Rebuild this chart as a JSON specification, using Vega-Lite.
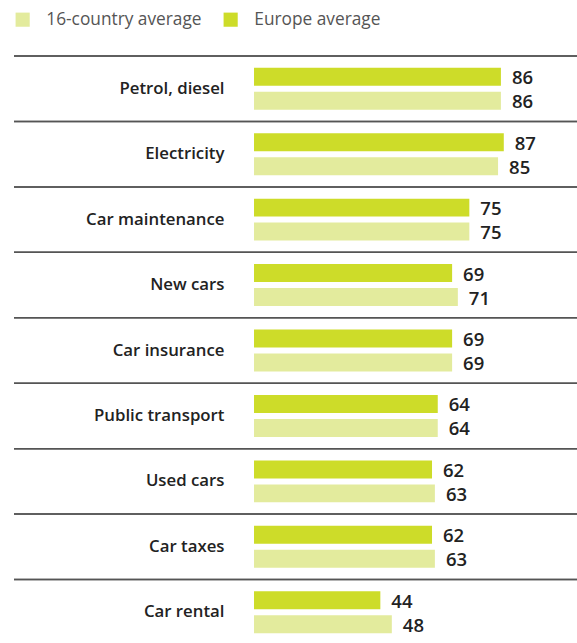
{
  "$schema": "https://vega.github.io/schema/vega-lite/v6.json",
  "width": 563,
  "height": 589,
  "autosize": {"type": "none"},
  "padding": {"left": 14, "top": 56, "right": 0, "bottom": 0},
  "config": {"view": {"stroke": null}, "font": "Open Sans"},
  "data": {
    "values": [
      {"category": "Petrol, diesel", "series": "Europe average", "value": 86},
      {"category": "Petrol, diesel", "series": "16-country average", "value": 86},
      {"category": "Electricity", "series": "Europe average", "value": 87},
      {"category": "Electricity", "series": "16-country average", "value": 85},
      {"category": "Car maintenance", "series": "Europe average", "value": 75},
      {"category": "Car maintenance", "series": "16-country average", "value": 75},
      {"category": "New cars", "series": "Europe average", "value": 69},
      {"category": "New cars", "series": "16-country average", "value": 71},
      {"category": "Car insurance", "series": "Europe average", "value": 69},
      {"category": "Car insurance", "series": "16-country average", "value": 69},
      {"category": "Public transport", "series": "Europe average", "value": 64},
      {"category": "Public transport", "series": "16-country average", "value": 64},
      {"category": "Used cars", "series": "Europe average", "value": 62},
      {"category": "Used cars", "series": "16-country average", "value": 63},
      {"category": "Car taxes", "series": "Europe average", "value": 62},
      {"category": "Car taxes", "series": "16-country average", "value": 63},
      {"category": "Car rental", "series": "Europe average", "value": 44},
      {"category": "Car rental", "series": "16-country average", "value": 48}
    ]
  },
  "encoding": {
    "y": {
      "field": "category",
      "type": "nominal",
      "sort": null,
      "scale": {"paddingInner": 0, "paddingOuter": 0},
      "axis": {
        "title": null,
        "domain": false,
        "ticks": false,
        "offset": -240,
        "labelPadding": 30,
        "labelFontSize": 16.8,
        "labelFontWeight": 600,
        "labelColor": "#222222",
        "labelFont": "Open Sans"
      }
    }
  },
  "layer": [
    {
      "mark": {"type": "rule", "color": "#555555", "strokeWidth": 1.5},
      "encoding": {
        "y": {"field": "category", "type": "nominal", "sort": null, "bandPosition": 0}
      }
    },
    {
      "mark": {"type": "bar"},
      "encoding": {
        "x": {
          "field": "value",
          "type": "quantitative",
          "scale": {"domain": [-83.6, 112.5], "nice": false, "zero": false},
          "axis": null
        },
        "yOffset": {
          "field": "series",
          "type": "nominal",
          "sort": ["Europe average", "16-country average"],
          "scale": {"paddingInner": 0.25, "paddingOuter": 0.49}
        },
        "color": {
          "field": "series",
          "type": "nominal",
          "sort": ["16-country average", "Europe average"],
          "scale": {
            "domain": ["16-country average", "Europe average"],
            "range": ["#e3eb9d", "#cddc29"]
          },
          "legend": {
            "title": null,
            "orient": "none",
            "direction": "horizontal",
            "legendX": 0,
            "legendY": -45,
            "symbolType": "square",
            "symbolSize": 200,
            "symbolStrokeWidth": 0,
            "labelFontSize": 17.3,
            "labelColor": "#555555",
            "labelFont": "Open Sans",
            "columnPadding": 20,
            "labelOffset": 15
          }
        }
      }
    },
    {
      "mark": {
        "type": "text",
        "align": "left",
        "baseline": "middle",
        "dx": 11,
        "dy": 1.5,
        "fontSize": 18.5,
        "fontWeight": 600,
        "color": "#222222"
      },
      "encoding": {
        "x": {"field": "value", "type": "quantitative"},
        "yOffset": {
          "field": "series",
          "type": "nominal",
          "sort": ["Europe average", "16-country average"]
        },
        "text": {"field": "value", "type": "quantitative"}
      }
    }
  ]
}
